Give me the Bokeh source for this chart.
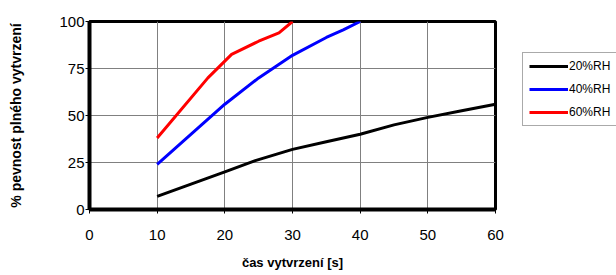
from bokeh.plotting import figure
from bokeh.models import Legend, LegendItem, FixedTicker, Range1d
from bokeh.layouts import row
from bokeh.embed import file_html
from bokeh.resources import INLINE

x_ticks = [0, 10, 20, 30, 40, 50, 60]
y_ticks = [0, 25, 50, 75, 100]

rh20_x = [10, 15, 20, 24.5, 30, 35, 40, 45, 50, 55, 60]
rh20_y = [7, 13.5, 20, 26, 32, 36, 40, 45, 49, 52.5, 56]

rh40_x = [10, 20, 25, 30, 35, 37.5, 40]
rh40_y = [24, 56, 70, 82, 91.5, 95.5, 100]

rh60_x = [10, 17.5, 21, 25, 28, 30]
rh60_y = [38, 70, 82.5, 89.5, 94, 100]

series = [("20%RH", rh20_x, rh20_y, "black"),
          ("40%RH", rh40_x, rh40_y, "#0000ff"),
          ("60%RH", rh60_x, rh60_y, "#ff0000")]

H = 275
p = figure(width=515, height=H, output_backend="svg", toolbar_location=None,
           x_range=Range1d(0, 60), y_range=Range1d(0, 100),
           min_border_left=89, min_border_right=20, min_border_top=21, min_border_bottom=66)

p.outline_line_color = "black"
p.outline_line_width = 3
p.background_fill_color = "white"
p.border_fill_color = "white"

for ax, ticks in ((p.xaxis, x_ticks), (p.yaxis, y_ticks)):
    ax.ticker = FixedTicker(ticks=ticks)
    ax.axis_line_width = 4
    ax.axis_line_color = "black"
    ax.major_tick_out = 4
    ax.major_tick_in = 0
    ax.major_tick_line_color = "black"
    ax.minor_tick_line_color = None
    ax.major_label_text_font = "Liberation Sans"
    ax.major_label_text_font_size = "15px"
    ax.major_label_text_color = "black"

p.xaxis.major_label_standoff = 16
p.yaxis.major_label_standoff = 1

p.xaxis.axis_label = "čas vytvrzení [s]"
p.yaxis.axis_label = "% pevnost plného vytvrzení"
for ax in (p.xaxis, p.yaxis):
    ax.axis_label_text_font = "Liberation Sans"
    ax.axis_label_text_font_style = "bold"
    ax.axis_label_text_color = "black"
p.xaxis.axis_label_text_font_size = "13px"
p.yaxis.axis_label_text_font_size = "14px"
p.xaxis.axis_label_standoff = 12
p.yaxis.axis_label_standoff = 32

p.xgrid.grid_line_color = "#808080"
p.ygrid.grid_line_color = "#808080"
p.xgrid.grid_line_width = 1
p.ygrid.grid_line_width = 1

for name, xs, ys, col in series:
    p.line(xs, ys, line_color=col, line_width=3)

# legend panel
q = figure(width=101, height=H, output_backend="svg", toolbar_location=None,
           x_axis_type=None, y_axis_type=None,
           x_range=Range1d(0, 1), y_range=Range1d(0, 1),
           min_border_left=0, min_border_right=0, min_border_top=21, min_border_bottom=66)
q.outline_line_color = None
q.xgrid.visible = False
q.ygrid.visible = False
q.background_fill_color = "white"
q.border_fill_color = "white"

items = []
for name, xs, ys, col in series:
    r = q.line([5, 6], [5, 6], line_color=col, line_width=3)
    items.append(LegendItem(label=name, renderers=[r]))

legend = Legend(items=items, location=(7, 83))
legend.border_line_color = "#555555"
legend.border_line_width = 1
legend.label_text_font = "Liberation Sans"
legend.label_text_font_size = "12px"
legend.label_text_color = "black"
legend.glyph_width = 39
legend.glyph_height = 14
legend.label_height = 14
legend.label_width = 60
legend.label_standoff = 1
legend.spacing = 9
legend.padding = 6
legend.margin = 0
legend.background_fill_alpha = 1
q.add_layout(legend, "center")

layout = row(p, q, spacing=0)
open("out.html", "w").write(file_html(layout, INLINE))
